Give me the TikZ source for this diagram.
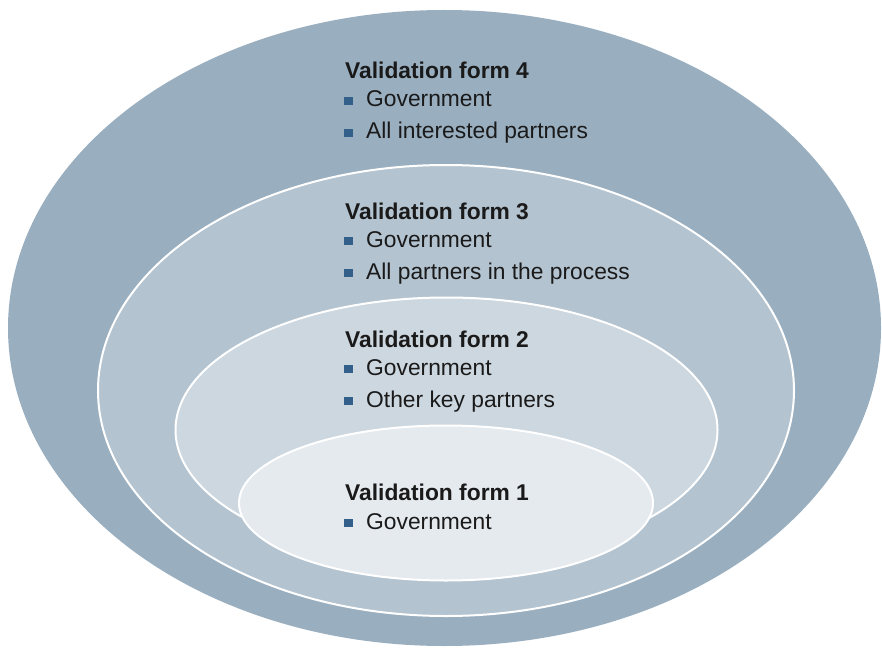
\documentclass[tikz,border=0pt]{standalone}
\usepackage{fontspec}
\setmainfont{Liberation Sans}
\definecolor{ring4}{HTML}{99AEBF}
\definecolor{ring3}{HTML}{B3C3D0}
\definecolor{ring2}{HTML}{CDD7E0}
\definecolor{ring1}{HTML}{E5EAEF}
\definecolor{bulletc}{HTML}{33608A}
\definecolor{txt}{HTML}{1A1A1A}
\tikzset{
  ringline/.style={draw=white, line width=2pt},
  titletext/.style={anchor=base west, inner sep=0pt, text=txt, font=\fontsize{22.8}{27}\selectfont\bfseries},
  itemtext/.style={anchor=base west, inner sep=0pt, text=txt, font=\fontsize{22.8}{27}\selectfont},
  bulletbox/.style={fill=bulletc, draw=none, minimum size=8.5pt, inner sep=0pt, anchor=south west}
}
\begin{document}
\begin{tikzpicture}[x=1pt,y=-1pt]
\useasboundingbox (0,0) rectangle (882,647);
\begin{scope}
\clip (0,0) rectangle (882,647);
\fill[ring4] (444.5,328) ellipse [x radius=436.5pt, y radius=318pt];
\end{scope}
\filldraw[ring3, ringline, fill=ring3] (446,390.5) ellipse [x radius=348pt, y radius=225.5pt];
\filldraw[ring2, ringline, fill=ring2] (446.5,430) ellipse [x radius=271pt, y radius=132.5pt];
\filldraw[ring1, ringline, fill=ring1] (446,503) ellipse [x radius=207pt, y radius=77.5pt];

% Form 4
\node[titletext] (t4) at (345,79) {Validation form 4};
\node[bulletbox] (b4a) at (344,105.5) {};
\node[itemtext] (i4a) at (366,107) {Government};
\node[bulletbox] (b4b) at (344,137.5) {};
\node[itemtext] (i4b) at (366,139) {All interested partners};
% Form 3
\node[titletext] (t3) at (345,219) {Validation form 3};
\node[bulletbox] (b3a) at (344,245.5) {};
\node[itemtext] (i3a) at (366,247) {Government};
\node[bulletbox] (b3b) at (344,277.5) {};
\node[itemtext] (i3b) at (366,279) {All partners in the process};
% Form 2
\node[titletext] (t2) at (345,347) {Validation form 2};
\node[bulletbox] (b2a) at (344,373.5) {};
\node[itemtext] (i2a) at (366,375) {Government};
\node[bulletbox] (b2b) at (344,405.5) {};
\node[itemtext] (i2b) at (366,407) {Other key partners};
% Form 1
\node[titletext] (t1) at (345,500) {Validation form 1};
\node[bulletbox] (b1a) at (344,527.5) {};
\node[itemtext] (i1a) at (366,529) {Government};
\end{tikzpicture}
\end{document}
